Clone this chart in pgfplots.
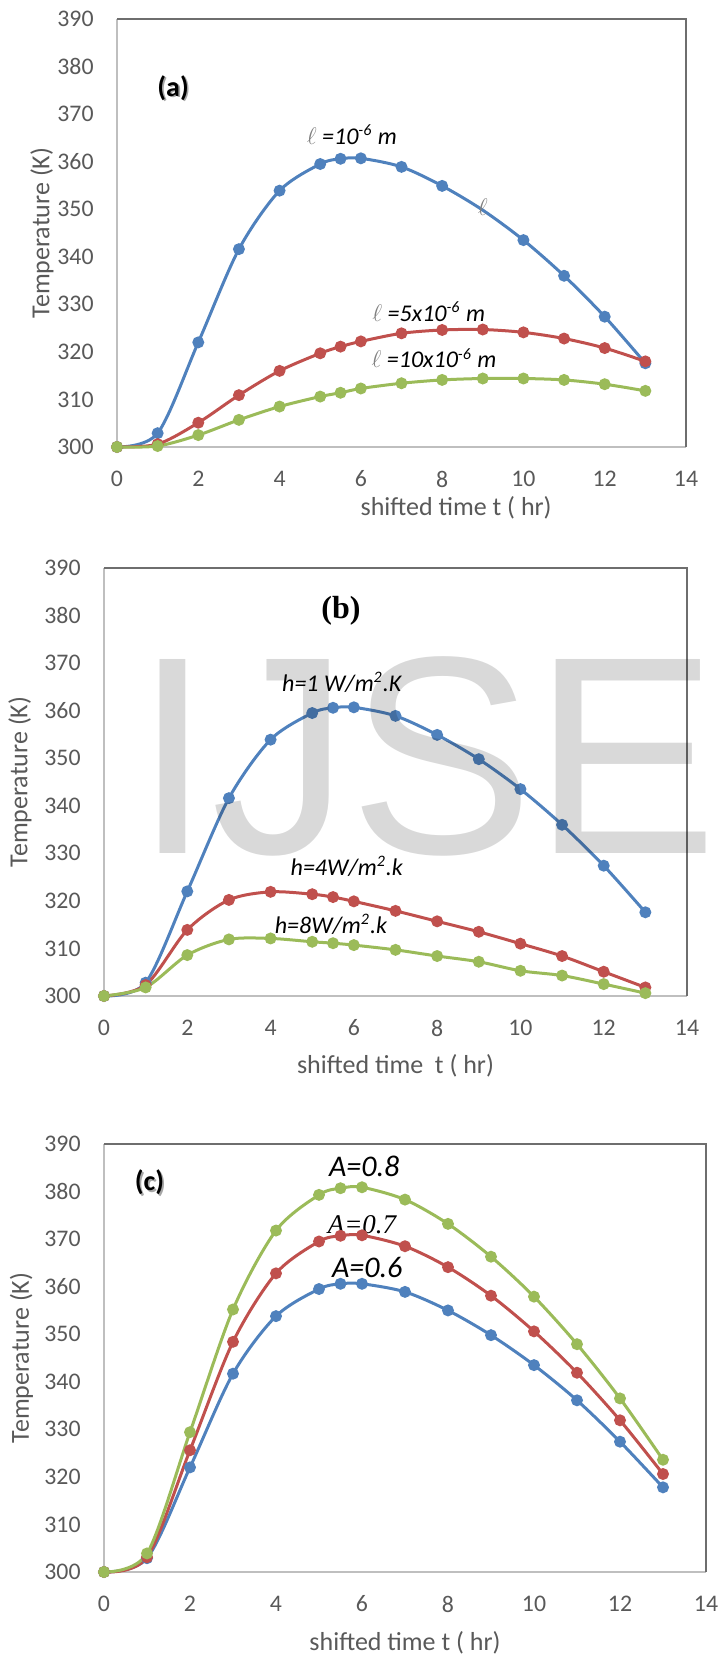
\documentclass[border=0pt]{standalone}
\usepackage{fontspec}
\setmainfont{Carlito}
\newfontfamily\arialf{Liberation Sans}
\newfontfamily\timesf{Liberation Serif}
\usepackage{pgfplots}
\usepackage{pgfplotstable}
\pgfplotsset{compat=1.18}
\definecolor{cblue}{HTML}{4F81BD}
\definecolor{cred}{HTML}{C0504D}
\definecolor{cgreen}{HTML}{9BBB59}
\definecolor{tgray}{HTML}{595959}
\definecolor{agray}{HTML}{BFBFBF}
\definecolor{fgray}{HTML}{6E6E6E}
\definecolor{lgray}{HTML}{808080}

\pgfplotstableread{
t blue red green
0 300 300 300
1 302.9 300.6 300.2
2 322.0 305.1 302.5
3 341.6 310.9 305.7
4 353.9 316.0 308.5
5 359.5 319.7 310.6
5.5 360.6 321.1 311.4
6 360.7 322.2 312.3
7 358.9 323.9 313.4
8 354.9 324.6 314.1
9 349.8 324.7 314.4
10 343.5 324.1 314.4
11 336.0 322.8 314.1
12 327.4 320.8 313.2
13 317.6 318.0 311.8
}\dataA

\pgfplotstableread{
t blue red green
0 300 300 300
1 302.8 302.3 301.8
2 322.0 313.9 308.6
3 341.6 320.2 311.9
4 353.9 321.9 312.1
5 359.5 321.4 311.4
5.5 360.6 320.8 311.1
6 360.7 319.9 310.7
7 358.9 317.9 309.7
8 354.9 315.7 308.4
9 349.8 313.5 307.2
10 343.5 311.0 305.3
11 336.0 308.4 304.3
12 327.4 305.1 302.5
13 317.6 301.8 300.6
}\dataB

\pgfplotstableread{
t blue red green
0 300 300 300
1 302.9 303.1 303.9
2 322.0 325.6 329.4
3 341.7 348.4 355.2
4 353.8 362.8 371.8
5 359.5 369.5 379.3
5.5 360.6 370.7 380.7
6 360.6 370.8 380.9
7 358.9 368.5 378.3
8 355.0 364.1 373.2
9 349.8 358.1 366.3
10 343.5 350.6 357.9
11 336.1 341.9 347.9
12 327.4 331.9 336.5
13 317.8 320.6 323.6
}\dataC

\newcommand{\ann}{\fontsize{12}{14}\selectfont\itshape}
\pgfplotsset{
  panel/.style={
    scale only axis,
    xmin=0, xmax=14, ymin=300, ymax=390,
    xtick={0,2,...,14}, ytick={300,310,...,390},
    major tick length=0pt,
    axis x line*=bottom, axis y line*=left,
    axis line style={agray, line width=0.75pt},
    /pgf/number format/assume math mode=true,
    ticklabel style={font=\fontsize{11.9}{13}\selectfont, text=tgray},
    yticklabel style={anchor=east, inner sep=0pt, xshift=-11.5pt},
    xticklabel style={anchor=north, inner sep=0pt, yshift=-11.75pt},
    label style={font=\fontsize{13}{15}\selectfont, text=tgray},
    clip=false,
  },
  ser/.style={line width=1.5pt, smooth, tension=0.5, mark=*, mark size=2.2pt, mark options={solid}},
}

\begin{document}
\begin{tikzpicture}
\useasboundingbox (0,0) rectangle (360.5pt,828.5pt);

% ---------------- panel (a)
\begin{axis}[panel, at={(58.5pt,605pt)}, anchor=south west,
  width=284.5pt, height=214pt,
  xlabel={shifted time t ( hr)}, ylabel={Temperature (K)},
  xlabel style={at={([yshift=-30.5pt]axis description cs:0.596,0)}, anchor=center},
  ylabel style={at={([xshift=-37.5pt]axis description cs:0,0.5)}, anchor=center},
]
\draw[fgray, line width=0.6pt] (rel axis cs:0,1) -- (rel axis cs:1,1) -- (rel axis cs:1,0);
\addplot[ser, cblue, mark indices={1,2,3,4,5,6,7,8,9,10,12,13,14,15}] table[x=t,y=blue] {\dataA};
\addplot[ser, cred] table[x=t,y=red] {\dataA};
\addplot[ser, cgreen] table[x=t,y=green] {\dataA};
\node[font=\fontsize{14}{16}\selectfont\bfseries, text=black!35] at ([xshift=0.8pt,yshift=-0.9pt]axis cs:1.38,375.5) {(a)};
\node[font=\fontsize{14}{16}\selectfont\bfseries] at (axis cs:1.38,375.5) {(a)};
\node[font=\ann] at (axis cs:5.78,365.6) {{\color{lgray}$\ell$} =10\textsuperscript{-6} m};
\node[font=\ann] at (axis cs:7.67,328.4) {{\color{lgray}$\ell$} =5x10\textsuperscript{-6} m};
\node[font=\ann] at (axis cs:7.8,318.7) {{\color{lgray}$\ell$} =10x10\textsuperscript{-6} m};
\node[font=\fontsize{13}{15}\selectfont, text=lgray] at (axis cs:9,350.5) {$\ell$};
\end{axis}

% ---------------- panel (b)
\begin{axis}[panel, at={(52pt,330.5pt)}, anchor=south west,
  width=291.5pt, height=214pt,
  xlabel={shifted time\ \ t ( hr)}, ylabel={Temperature (K)},
  xlabel style={at={([yshift=-34.8pt]axis description cs:0.5,0)}, anchor=center},
  ylabel style={at={([xshift=-42pt]axis description cs:0,0.5)}, anchor=center},
]
\draw[fgray, line width=0.6pt] (rel axis cs:0,1) -- (rel axis cs:1,1) -- (rel axis cs:1,0);
\addplot[ser, cblue] table[x=t,y=blue] {\dataB};
\addplot[ser, cred] table[x=t,y=red] {\dataB};
\addplot[ser, cgreen] table[x=t,y=green] {\dataB};
\node[font=\timesf\fontsize{16}{18}\selectfont\bfseries] at (axis cs:5.69,381) {(b)};
\node[font=\ann] at (axis cs:5.71,366) {h=1 W/m\textsuperscript{2}.K};
\node[font=\ann] at (axis cs:5.83,327.3) {h=4W/m\textsuperscript{2}.k};
\node[font=\ann] at (axis cs:5.45,315) {h=8W/m\textsuperscript{2}.k};
\end{axis}
\node[inner sep=0pt, text=black, text opacity=0.15, font=\arialf\fontsize{141}{141}\selectfont, xscale=0.98] at (213pt,450.5pt) {IJSE};

% ---------------- panel (c)
\begin{axis}[panel, at={(52pt,42.5pt)}, anchor=south west,
  width=301pt, height=214pt,
  xlabel={shifted time t ( hr)}, ylabel={Temperature (K)},
  xlabel style={at={([yshift=-35.25pt]axis description cs:0.5,0)}, anchor=center},
  ylabel style={at={([xshift=-41.25pt]axis description cs:0,0.5)}, anchor=center},
]
\draw[fgray, line width=0.6pt] (rel axis cs:0,1) -- (rel axis cs:1,1) -- (rel axis cs:1,0);
\node[font=\timesf\fontsize{13.5}{15}\selectfont\itshape] at (axis cs:6.0,373) {A=0.7};
\addplot[ser, cblue] table[x=t,y=blue] {\dataC};
\addplot[ser, cred] table[x=t,y=red] {\dataC};
\addplot[ser, cgreen] table[x=t,y=green] {\dataC};
\node[font=\fontsize{14}{16}\selectfont\bfseries, text=black!35] at ([xshift=0.8pt,yshift=-0.9pt]axis cs:1.06,382) {(c)};
\node[font=\fontsize{14}{16}\selectfont\bfseries] at (axis cs:1.06,382) {(c)};
\node[font=\fontsize{15}{17}\selectfont\itshape] at (axis cs:6.05,385.3) {A=0.8};
\node[font=\fontsize{15}{17}\selectfont\itshape] at (axis cs:6.12,364) {A=0.6};
\end{axis}
\end{tikzpicture}
\end{document}
